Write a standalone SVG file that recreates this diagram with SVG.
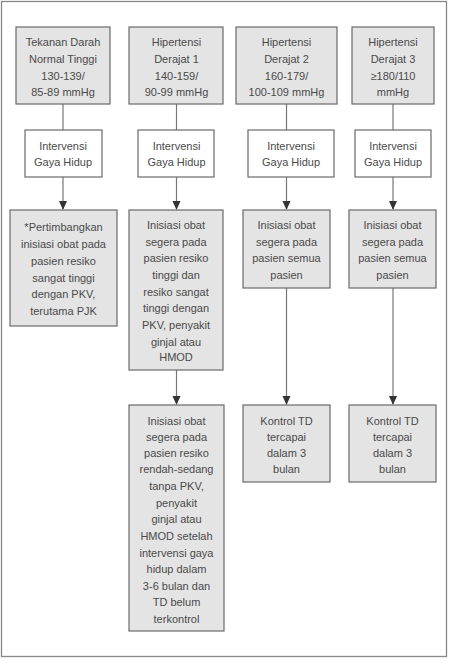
<svg xmlns="http://www.w3.org/2000/svg" width="449" height="663" viewBox="0 0 449 663">
<defs>
<style>
.frame{fill:#fff;stroke:#888;stroke-width:1.3}
.g{fill:#e4e4e4;stroke:#6a6a6a;stroke-width:1.2}
.w{fill:#fff;stroke:#6a6a6a;stroke-width:1.2}
text{font-family:"Liberation Sans",Arial,sans-serif;font-size:11px;fill:#4a4a4a;text-anchor:middle}
.c{stroke:#777;stroke-width:1.2;fill:none}
</style>
<marker id="ah" markerWidth="8" markerHeight="9" refX="4" refY="8" orient="auto-start-reverse" markerUnits="userSpaceOnUse" viewBox="0 0 8 9">
<path d="M0,0 L8,0 L4,9 Z" fill="#333" transform="rotate(0)"/>
</marker>
</defs>
<rect class="frame" x="1.5" y="1.5" width="445" height="655"/>
<g id="connectors">
<line class="c" x1="63" y1="104" x2="63" y2="130"/>
<line class="c" x1="63" y1="177" x2="63" y2="209"/>
<path d="M59,201 L67,201 L63,210 Z" fill="#333"/>
<line class="c" x1="176.5" y1="104" x2="176.5" y2="130"/>
<line class="c" x1="176.5" y1="177" x2="176.5" y2="209"/>
<path d="M172.5,201 L180.5,201 L176.5,210 Z" fill="#333"/>
<line class="c" x1="176.5" y1="370" x2="176.5" y2="404"/>
<path d="M172.5,396 L180.5,396 L176.5,405 Z" fill="#333"/>
<line class="c" x1="286.5" y1="104" x2="286.5" y2="130"/>
<line class="c" x1="286.5" y1="177" x2="286.5" y2="209"/>
<path d="M282.5,201 L290.5,201 L286.5,210 Z" fill="#333"/>
<line class="c" x1="286.5" y1="288" x2="286.5" y2="404"/>
<path d="M282.5,396 L290.5,396 L286.5,405 Z" fill="#333"/>
<line class="c" x1="393" y1="104" x2="393" y2="130"/>
<line class="c" x1="393" y1="177" x2="393" y2="209"/>
<path d="M389,201 L397,201 L393,210 Z" fill="#333"/>
<line class="c" x1="393" y1="288" x2="393" y2="404"/>
<path d="M389,396 L397,396 L393,405 Z" fill="#333"/>
</g>
<g id="n1">
<rect class="g" x="16" y="27" width="94" height="77"/>
<text x="63" y="46">Tekanan Darah</text>
<text x="63" y="63">Normal Tinggi</text>
<text x="63" y="79.5">130-139/</text>
<text x="63" y="96">85-89 mmHg</text>
</g>
<g id="n2">
<rect class="g" x="129" y="27" width="94" height="77"/>
<text x="176.5" y="46">Hipertensi</text>
<text x="176.5" y="63">Derajat 1</text>
<text x="176.5" y="79.5">140-159/</text>
<text x="176.5" y="96">90-99 mmHg</text>
</g>
<g id="n3">
<rect class="g" x="236" y="27" width="101" height="77"/>
<text x="286.5" y="46">Hipertensi</text>
<text x="286.5" y="63">Derajat 2</text>
<text x="286.5" y="79.5">160-179/</text>
<text x="286.5" y="96">100-109 mmHg</text>
</g>
<g id="n4">
<rect class="g" x="352" y="27" width="82" height="77"/>
<text x="393" y="46">Hipertensi</text>
<text x="393" y="63">Derajat 3</text>
<text x="393" y="79.5">≥180/110</text>
<text x="393" y="96">mmHg</text>
</g>
<g id="i1">
<rect class="w" x="25" y="130" width="77" height="47"/>
<text x="63" y="149.5">Intervensi</text>
<text x="63" y="166">Gaya Hidup</text>
</g>
<g id="i2">
<rect class="w" x="138" y="130" width="76" height="47"/>
<text x="176.5" y="149.5">Intervensi</text>
<text x="176.5" y="166">Gaya Hidup</text>
</g>
<g id="i3">
<rect class="w" x="248" y="130" width="86" height="47"/>
<text x="291" y="149.5">Intervensi</text>
<text x="291" y="166">Gaya Hidup</text>
</g>
<g id="i4">
<rect class="w" x="355" y="130" width="76" height="47"/>
<text x="393" y="149.5">Intervensi</text>
<text x="393" y="166">Gaya Hidup</text>
</g>
<g id="a1">
<rect class="g" x="10" y="210" width="107" height="116"/>
<text x="63.5" y="231.3">*Pertimbangkan</text>
<text x="63.5" y="248.3">inisiasi obat pada</text>
<text x="63.5" y="265">pasien resiko</text>
<text x="63.5" y="282">sangat tinggi</text>
<text x="63.5" y="298.3">dengan PKV,</text>
<text x="63.5" y="314.7">terutama PJK</text>
</g>
<g id="a2">
<rect class="g" x="129" y="210" width="94" height="160"/>
<text x="176" y="229">Inisiasi obat</text>
<text x="176" y="245.7">segera pada</text>
<text x="176" y="262.3">pasien resiko</text>
<text x="176" y="279">tinggi dan</text>
<text x="176" y="295.7">resiko sangat</text>
<text x="176" y="312.3">tinggi dengan</text>
<text x="176" y="329">PKV, penyakit</text>
<text x="176" y="345.7">ginjal atau</text>
<text x="176" y="361.3">HMOD</text>
</g>
<g id="a3">
<rect class="g" x="243" y="210" width="87" height="78"/>
<text x="286.5" y="229">Inisiasi obat</text>
<text x="286.5" y="245.7">segera pada</text>
<text x="286.5" y="262.3">pasien semua</text>
<text x="286.5" y="279">pasien</text>
</g>
<g id="a4">
<rect class="g" x="349" y="210" width="87" height="78"/>
<text x="392.5" y="229">Inisiasi obat</text>
<text x="392.5" y="245.7">segera pada</text>
<text x="392.5" y="262.3">pasien semua</text>
<text x="392.5" y="279">pasien</text>
</g>
<g id="b2">
<rect class="g" x="129" y="405" width="95" height="226"/>
<text x="176.5" y="424.7">Inisiasi obat</text>
<text x="176.5" y="440.7">segera pada</text>
<text x="176.5" y="457.3">pasien resiko</text>
<text x="176.5" y="473.3">rendah-sedang</text>
<text x="176.5" y="490">tanpa PKV,</text>
<text x="176.5" y="506.7">penyakit</text>
<text x="176.5" y="523.3">ginjal atau</text>
<text x="176.5" y="540">HMOD setelah</text>
<text x="176.5" y="556.7">intervensi gaya</text>
<text x="176.5" y="573.3">hidup dalam</text>
<text x="176.5" y="590">3-6 bulan dan</text>
<text x="176.5" y="606">TD belum</text>
<text x="176.5" y="622.7">terkontrol</text>
</g>
<g id="b3">
<rect class="g" x="243" y="405" width="87" height="77"/>
<text x="286.5" y="424.7">Kontrol TD</text>
<text x="286.5" y="440.7">tercapai</text>
<text x="286.5" y="457.3">dalam 3</text>
<text x="286.5" y="473.3">bulan</text>
</g>
<g id="b4">
<rect class="g" x="349" y="405" width="87" height="77"/>
<text x="392.5" y="424.7">Kontrol TD</text>
<text x="392.5" y="440.7">tercapai</text>
<text x="392.5" y="457.3">dalam 3</text>
<text x="392.5" y="473.3">bulan</text>
</g>
</svg>
